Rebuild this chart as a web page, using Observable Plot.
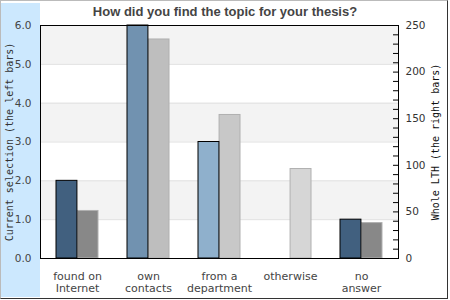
<!DOCTYPE html>
<html><head><meta charset="utf-8">
<script src="https://cdn.jsdelivr.net/npm/d3@7"></script>
<script src="https://cdn.jsdelivr.net/npm/@observablehq/plot@0.6"></script>
<style>
html,body{margin:0;padding:0;background:#fff;}
#wrap{position:relative;width:450px;height:300px;overflow:hidden;}
#strip{position:absolute;left:1px;top:3px;width:39px;height:294px;background:#cce8fe;}
#chart{position:absolute;left:0;top:0;}
#title{position:absolute;left:0;top:4px;width:450px;text-align:center;font:bold 13px "Liberation Sans",Arial,sans-serif;color:#444;line-height:15px;}
#border{position:absolute;left:0;top:0;width:448px;height:299px;box-sizing:border-box;border:1px solid #333;border-top-color:#bbb;border-left-color:#bbb;pointer-events:none;}
</style></head>
<body>
<div id="wrap"><div id="strip"></div><div id="chart"></div><div id="title"></div><div id="border"></div></div>
<script>
const title = "How did you find the topic for your thesis?";
const categories = ["found on\nInternet", "own\ncontacts", "from a\ndepartment", "otherwise", "no\nanswer"];
const selection = [2, 6, 3, 0, 1];
const wholeLTH = [51, 235, 154, 96, 38];
const selectionColors = ["#41607f", "#7192b0", "#8fb0cc", "#8fb0cc", "#41607f"];
const lthColors = ["#888888", "#bebebe", "#c8c8c8", "#d6d6d6", "#888888"];
const leftTicks = [0, 1, 2, 3, 4, 5, 6];
const shadedBands = [[1, 2], [3, 4], [5, 6]];
const rightTicks = [0, 50, 100, 150, 200, 250];
const rightMinorTicks = [10, 20, 30, 40, 50, 60, 70, 80, 90, 100, 110, 120, 130, 140, 150, 160, 170, 180, 190, 200, 210, 220, 230, 240];
const leftLabel = "Current selection (the left bars)";
const rightLabel = "Whole LTH (the right bars)";

const leftMax = 6, rightMax = 250;
const toLeft = v => v * leftMax / rightMax;

const width = 450, height = 300;
const marginLeft = 40, marginRight = 52, marginTop = 25, marginBottom = 42;
const paddingInner = 0.41, paddingOuter = 0.21;
const step = (width - marginLeft - marginRight) / (categories.length - paddingInner + 2 * paddingOuter);
const half = step * (1 - paddingInner) / 2;

const rows = categories.map((c, i) => ({cat: c, sel: selection[i], lth: toLeft(wholeLTH[i]), selColor: selectionColors[i], lthColor: lthColors[i]}));

document.getElementById("title").textContent = title;

const chart = Plot.plot({
  width, height, marginLeft, marginRight, marginTop, marginBottom,
  style: {fontFamily: "DejaVu Sans", fontSize: "11px", color: "#444", background: "transparent"},
  x: {domain: categories, paddingInner, paddingOuter, axis: null, label: null},
  y: {domain: [0, leftMax], axis: null, label: null},
  marks: [
    Plot.rectY(shadedBands, {y1: d => d[0], y2: d => d[1], fill: "#f3f3f3"}),
    Plot.ruleY(leftTicks, {stroke: "#e0e0e0"}),
    Plot.barY(rows, {x: "cat", y: "lth", fill: "lthColor", stroke: "#b0b0b0", strokeWidth: 1, insetLeft: half}),
    Plot.barY(rows.filter(d => d.sel > 0), {x: "cat", y: "sel", fill: "selColor", stroke: "black", strokeWidth: 1, insetRight: half}),
    Plot.frame({stroke: "black"}),
    Plot.axisX(categories, {anchor: "bottom", tickSize: 0, tickPadding: 13, lineHeight: 1.08, fontSize: 11, fill: "#444", label: null}),
    Plot.axisY(leftTicks, {anchor: "left", tickSize: 0, tickPadding: 9, tickFormat: d3.format(".1f"), fontSize: 10.5, fill: "#444", label: null}),
    Plot.axisY(rightTicks.map(toLeft), {anchor: "right", tickSize: 0, tickPadding: 7, tickFormat: (d, i) => String(rightTicks[i]), fontSize: 10.5, fill: "#333", label: null}),
    Plot.axisY(rightMinorTicks.map(toLeft), {anchor: "right", tickSize: 6, dx: -6, tickFormat: () => "", stroke: "black", label: null}),
    Plot.text([leftLabel], {frameAnchor: "left", textAnchor: "middle", dx: -31, rotate: -90, fontFamily: "DejaVu Sans Mono", fontSize: 10, fill: "#333"}),
    Plot.text([rightLabel], {frameAnchor: "right", textAnchor: "middle", dx: 37, rotate: -90, fontFamily: "DejaVu Sans Mono", fontSize: 10, fill: "#111"})
  ]
});
document.getElementById("chart").appendChild(chart);
</script>
</body></html>
